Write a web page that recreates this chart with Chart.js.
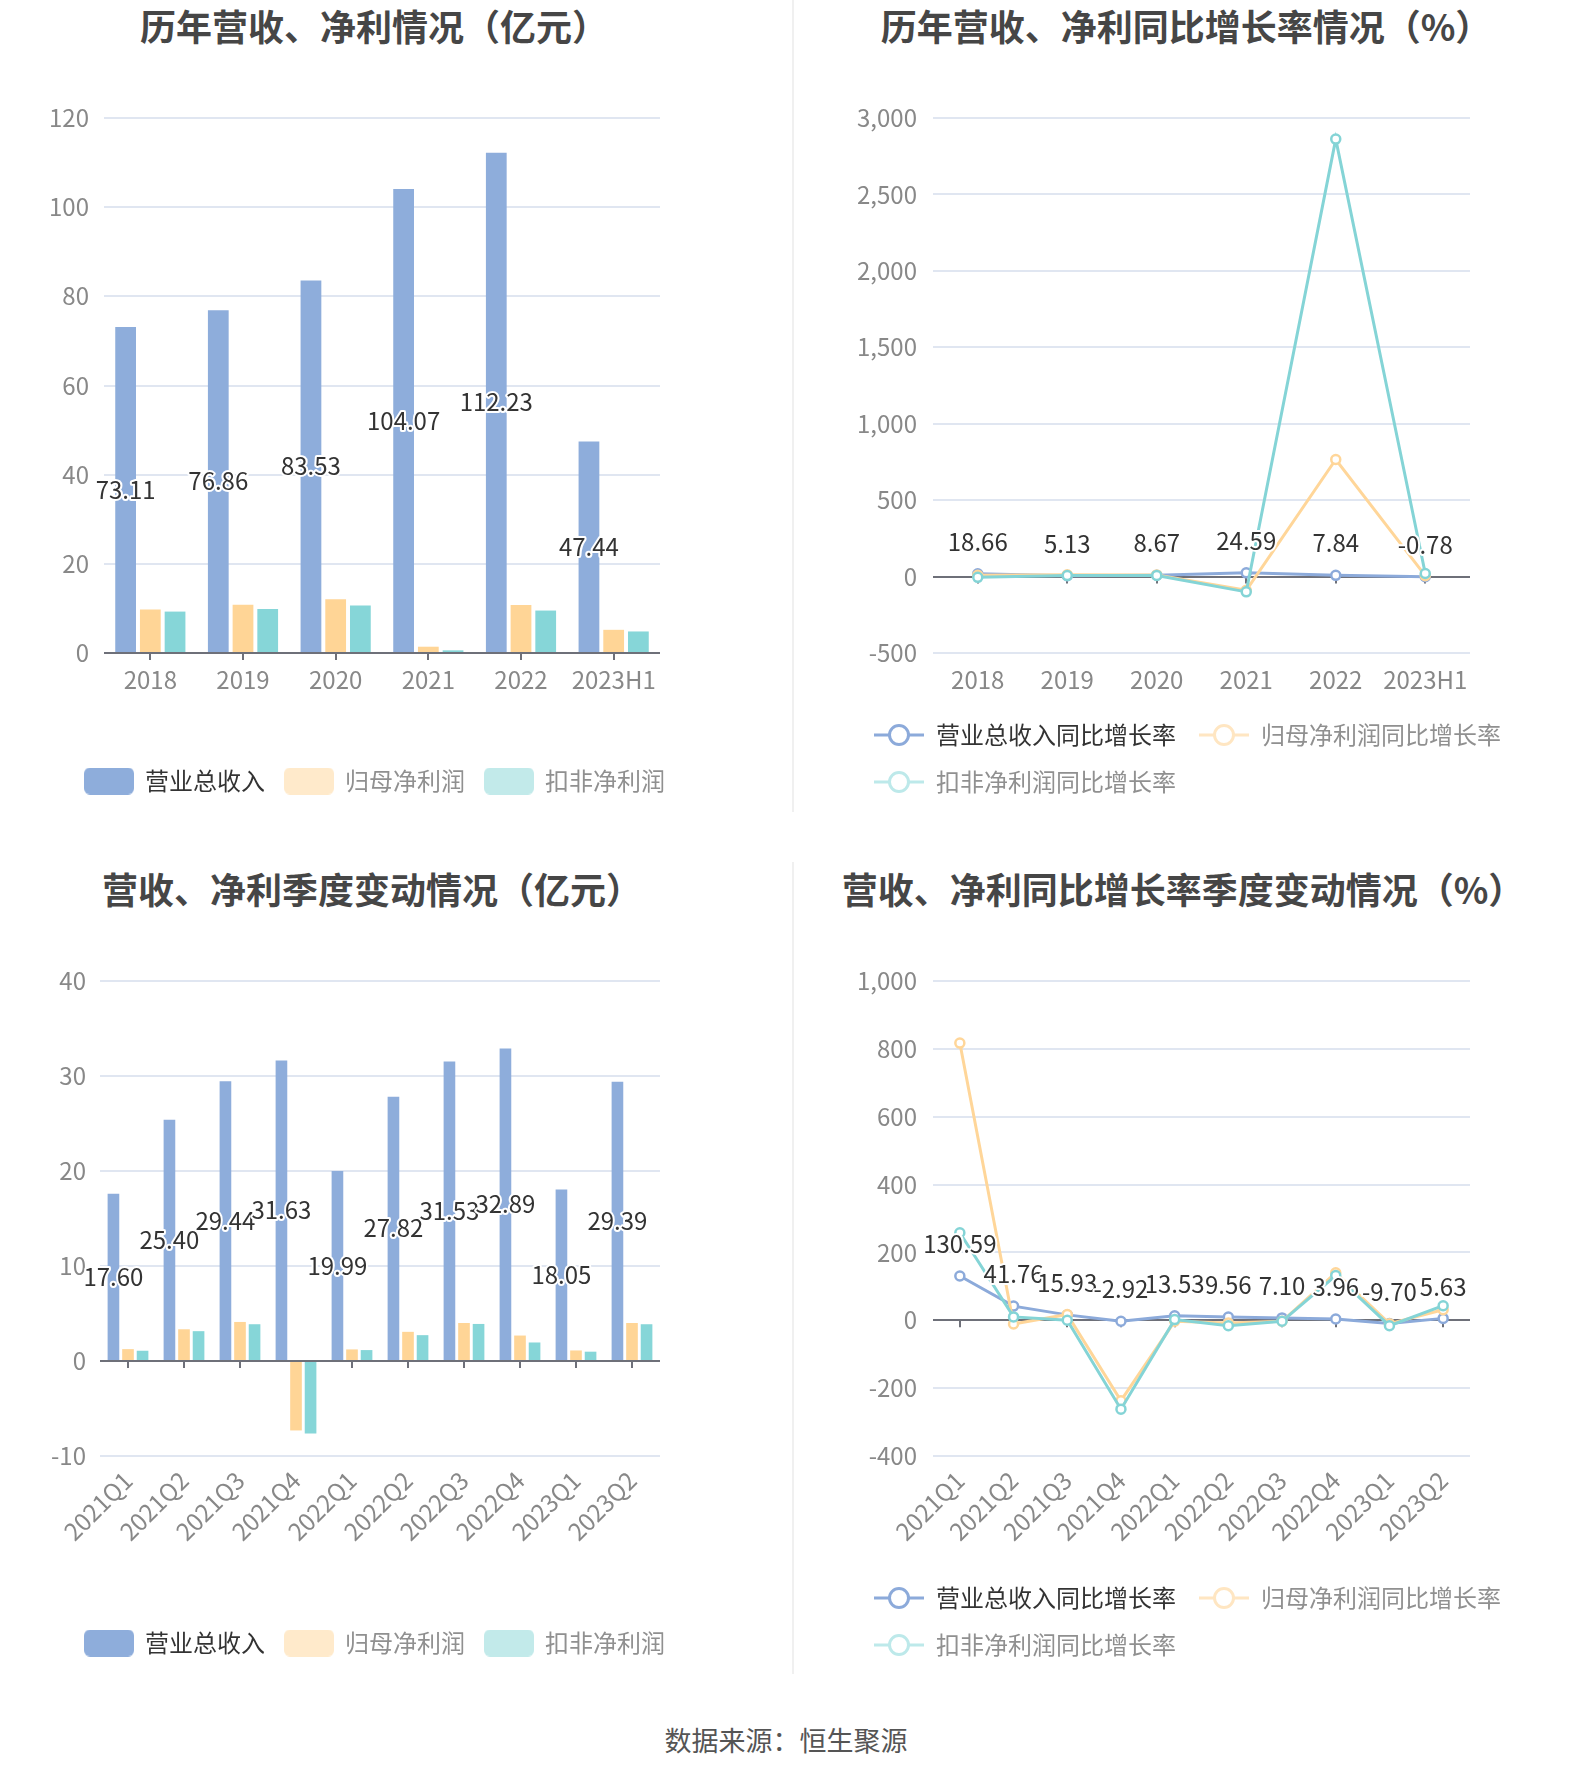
<!DOCTYPE html>
<html lang="zh-CN">
<head>
<meta charset="utf-8">
<title>营收、净利情况</title>
<script src="https://cdn.jsdelivr.net/npm/chart.js@4.4.1/dist/chart.umd.min.js"></script>
<style>
  html, body { margin: 0; padding: 0; background: #fff; }
  body { width: 1574px; height: 1782px; position: relative; overflow: hidden;
         font-family: "Noto Sans CJK SC", "Noto Sans", sans-serif; }
  .title { position: absolute; transform: translateX(-50%); white-space: nowrap;
           font-size: 36px; font-weight: bold; color: #464646; line-height: 40px; }
  .box { position: absolute; }
  .divider { position: absolute; left: 792px; width: 2px; background: #f0f0f0; }
  .source { position: absolute; left: 786px; top: 1722px; transform: translateX(-50%);
            font-size: 27px; color: #555; white-space: nowrap; line-height: 36px; }
</style>
</head>
<body>
<div class="divider" style="top:0;height:812px"></div>
<div class="divider" style="top:862px;height:812px"></div>

<div class="title" style="left:374px;top:5px">历年营收、净利情况（亿元）</div>
<div class="title" style="left:1186px;top:5px">历年营收、净利同比增长率情况（%）</div>
<div class="title" style="left:372px;top:868px">营收、净利季度变动情况（亿元）</div>
<div class="title" style="left:1183px;top:868px">营收、净利同比增长率季度变动情况（%）</div>

<div class="box" style="left:0;top:60px;width:750px;height:743px"><canvas id="annualChart"></canvas></div>
<div class="box" style="left:800px;top:60px;width:774px;height:744px"><canvas id="annualGrowthChart"></canvas></div>
<div class="box" style="left:0;top:930px;width:750px;height:735px"><canvas id="quarterChart"></canvas></div>
<div class="box" style="left:800px;top:930px;width:774px;height:737px"><canvas id="quarterGrowthChart"></canvas></div>

<div class="source">数据来源：恒生聚源</div>

<script>
// ---------- DATA ----------
const yearLabels = ["2018", "2019", "2020", "2021", "2022", "2023H1"];
const yearRevenue = [73.11, 76.86, 83.53, 104.07, 112.23, 47.44];
const yearNetProfit = [9.74, 10.85, 12.04, 1.41, 10.78, 5.2];
const yearDeductedProfit = [9.29, 9.89, 10.63, 0.6, 9.52, 4.83];

const yearRevenueGrowth = [18.66, 5.13, 8.67, 24.59, 7.84, -0.78];
const yearNetProfitGrowth = [8, 11.4, 11, -90, 766, 6];
const yearDeductedGrowth = [-5, 6.5, 7.5, -100, 2862, 20];

const quarterLabels = ["2021Q1", "2021Q2", "2021Q3", "2021Q4", "2022Q1", "2022Q2", "2022Q3", "2022Q4", "2023Q1", "2023Q2"];
const quarterRevenue = [17.6, 25.4, 29.44, 31.63, 19.99, 27.82, 31.53, 32.89, 18.05, 29.39];
const quarterNetProfit = [1.25, 3.34, 4.11, -7.31, 1.22, 3.07, 4.0, 2.68, 1.11, 4.0];
const quarterDeductedProfit = [1.08, 3.14, 3.87, -7.63, 1.15, 2.72, 3.9, 1.95, 0.98, 3.87];

const quarterRevenueGrowth = [130.59, 41.76, 15.93, -2.92, 13.53, 9.56, 7.1, 3.96, -9.7, 5.63];
const quarterNetProfitGrowth = [817, -11, 17, -237, -3, -8, -3, 140, -10, 31];
const quarterDeductedGrowth = [258, 10, 0, -262, 2, -16, -3, 132, -16, 43];

const annualAmountTicks = [0, 20, 40, 60, 80, 100, 120];
const annualGrowthTicks = [-500, 0, 500, 1000, 1500, 2000, 2500, 3000];
const quarterAmountTicks = [-10, 0, 10, 20, 30, 40];
const quarterGrowthTicks = [-400, -200, 0, 200, 400, 600, 800, 1000];

const amountNames = ["营业总收入", "归母净利润", "扣非净利润"];
const growthNames = ["营业总收入同比增长率", "归母净利润同比增长率", "扣非净利润同比增长率"];

// ---------- STYLE ----------
Chart.defaults.font.family = '"Noto Sans CJK SC", "Noto Sans", sans-serif';
Chart.defaults.animation = false;

const BAR_COLORS = ["#8EADDB", "#FFD596", "#86D6D8"];
const LINE_COLORS = ["#8CAADA", "#FFD699", "#84D4D6"];
const BAR_LEGEND = ["#8EADDB", "#FFEACB", "#C2EAEA"];
const LINE_LEGEND = ["#8CAADA", "#FFE6C2", "#BDE9EA"];
const LEGEND_TEXT = ["#333333", "#909090", "#909090"];

function barIcon(color) {
  const c = document.createElement("canvas");
  c.width = 50; c.height = 27;
  const ctx = c.getContext("2d");
  ctx.fillStyle = color;
  ctx.beginPath();
  ctx.roundRect(0, 0, 50, 27, 6);
  ctx.fill();
  return c;
}

function lineIcon(color) {
  const c = document.createElement("canvas");
  c.width = 50; c.height = 26;
  const ctx = c.getContext("2d");
  ctx.strokeStyle = color;
  ctx.lineWidth = 3;
  ctx.beginPath(); ctx.moveTo(0, 13); ctx.lineTo(50, 13); ctx.stroke();
  ctx.beginPath(); ctx.arc(25, 13, 9.5, 0, Math.PI * 2);
  ctx.fillStyle = "#fff"; ctx.fill(); ctx.stroke();
  return c;
}

// ---------- PLUGINS ----------
// value labels for the first series (revenue)
const valueLabels = {
  id: "valueLabels",
  afterDatasetsDraw(chart, args, opts) {
    const meta = chart.getDatasetMeta(0);
    const data = chart.data.datasets[0].data;
    const ctx = chart.ctx;
    ctx.save();
    ctx.font = '24px "Noto Sans CJK SC", sans-serif';
    ctx.textAlign = "center";
    ctx.textBaseline = "middle";
    ctx.lineWidth = 4;
    ctx.lineJoin = "round";
    ctx.strokeStyle = "#fff";
    ctx.fillStyle = "#333";
    meta.data.forEach((el, i) => {
      const y = meta.type === "bar" ? (el.y + el.base) / 2 : el.y - opts.offset;
      const text = data[i].toFixed(2);
      ctx.strokeText(text, el.x, y);
      ctx.fillText(text, el.x, y);
    });
    ctx.restore();
  }
};

// small tick marks hanging under the zero line
const zeroTicks = {
  id: "zeroTicks",
  beforeDatasetsDraw(chart) {
    const xs = chart.scales.x, ys = chart.scales.y;
    const y0 = ys.getPixelForValue(0);
    const ctx = chart.ctx;
    ctx.save();
    ctx.strokeStyle = "#6E7079";
    ctx.lineWidth = 2;
    chart.data.labels.forEach((l, i) => {
      const px = Math.round(xs.getPixelForValue(i));
      ctx.beginPath(); ctx.moveTo(px, y0); ctx.lineTo(px, y0 + 7); ctx.stroke();
    });
    ctx.restore();
  }
};

// ---------- OPTIONS ----------
function buildOptions(cfg) {
  return {
    responsive: true,
    maintainAspectRatio: false,
    animation: false,
    layout: { padding: { top: cfg.padTop, left: cfg.padLeft, right: 0, bottom: 0 } },
    plugins: {
      tooltip: { enabled: false },
      valueLabels: { offset: 32 },
      legend: {
        position: "bottom",
        align: cfg.legendAlign,
        labels: {
          usePointStyle: true,
          pointStyleWidth: cfg.iconWidth,
          padding: cfg.legendGap,
          font: { size: 24 },
          generateLabels: chart => chart.data.datasets.map((ds, i) => ({
            text: ds.label,
            pointStyle: cfg.icons[i],
            fontColor: LEGEND_TEXT[i],
            datasetIndex: i,
            hidden: !chart.isDatasetVisible(i),
            lineWidth: 0,
            fillStyle: "transparent",
            strokeStyle: "transparent"
          }))
        }
      }
    },
    scales: {
      x: {
        offset: true,
        grid: { display: false },
        border: { display: false },
        ticks: {
          color: "#888",
          font: { size: 24 },
          padding: cfg.xPad,
          autoSkip: false,
          minRotation: cfg.rotation,
          maxRotation: cfg.rotation
        },
        afterFit: s => { s.height = cfg.xHeight; }
      },
      y: {
        min: cfg.yTicks[0],
        max: cfg.yTicks[cfg.yTicks.length - 1],
        grid: {
          color: c => (c.tick && c.tick.value === 0 ? "#6E7079" : "#E0E6F1"),
          lineWidth: 2,
          drawTicks: false
        },
        border: { display: false },
        ticks: {
          color: "#888",
          font: { size: 24 },
          padding: cfg.yPad,
          callback: v => v.toLocaleString("en-US")
        },
        afterBuildTicks: s => { s.ticks = cfg.yTicks.map(v => ({ value: v })); },
        afterFit: s => { s.width = cfg.yWidth; }
      },
      pad: {
        position: "right",
        grid: { display: false },
        border: { display: false },
        ticks: { display: false },
        afterFit: s => { s.width = cfg.rightWidth; }
      }
    }
  };
}

function barSets(names, series, catPct, barPct) {
  return series.map((data, i) => ({
    label: names[i],
    data: data,
    backgroundColor: BAR_COLORS[i],
    categoryPercentage: catPct,
    barPercentage: barPct
  }));
}

function lineSets(names, series) {
  return series.map((data, i) => ({
    label: names[i],
    data: data,
    borderColor: LINE_COLORS[i],
    backgroundColor: "#fff",
    borderWidth: 3,
    tension: 0,
    pointRadius: 4.5,
    pointBorderWidth: 2.5,
    pointBackgroundColor: "#fff",
    pointBorderColor: LINE_COLORS[i],
    order: 2 - i
  }));
}

const barIcons = BAR_LEGEND.map(barIcon);
const lineIcons = LINE_LEGEND.map(lineIcon);

// ---------- CHARTS ----------
new Chart(document.getElementById("annualChart"), {
  type: "bar",
  data: {
    labels: yearLabels,
    datasets: barSets(amountNames, [yearRevenue, yearNetProfit, yearDeductedProfit], 0.8, 0.84)
  },
  options: buildOptions({
    padTop: 58, padLeft: 0, yWidth: 104, rightWidth: 90, yPad: 15,
    legendAlign: "center", legendGap: 20, iconWidth: 48,
    xPad: 4, xHeight: 96, rotation: 0, yTicks: annualAmountTicks, icons: barIcons
  }),
  plugins: [valueLabels, zeroTicks]
});

new Chart(document.getElementById("annualGrowthChart"), {
  type: "line",
  data: {
    labels: yearLabels,
    datasets: lineSets(growthNames, [yearRevenueGrowth, yearNetProfitGrowth, yearDeductedGrowth])
  },
  options: buildOptions({
    padTop: 58, padLeft: 51, yWidth: 82, rightWidth: 104, yPad: 16,
    legendAlign: "start", legendGap: 23, iconWidth: 50,
    xPad: 4, xHeight: 47, rotation: 0, yTicks: annualGrowthTicks, icons: lineIcons
  }),
  plugins: [valueLabels, zeroTicks]
});

new Chart(document.getElementById("quarterChart"), {
  type: "bar",
  data: {
    labels: quarterLabels,
    datasets: barSets(amountNames, [quarterRevenue, quarterNetProfit, quarterDeductedProfit], 0.78, 0.8)
  },
  options: buildOptions({
    padTop: 51, padLeft: 0, yWidth: 100, rightWidth: 90, yPad: 14,
    legendAlign: "center", legendGap: 20, iconWidth: 48,
    xPad: 2, xHeight: 155, rotation: 45, yTicks: quarterAmountTicks, icons: barIcons
  }),
  plugins: [valueLabels, zeroTicks]
});

new Chart(document.getElementById("quarterGrowthChart"), {
  type: "line",
  data: {
    labels: quarterLabels,
    datasets: lineSets(growthNames, [quarterRevenueGrowth, quarterNetProfitGrowth, quarterDeductedGrowth])
  },
  options: buildOptions({
    padTop: 51, padLeft: 51, yWidth: 82, rightWidth: 104, yPad: 16,
    legendAlign: "start", legendGap: 23, iconWidth: 50,
    xPad: 2, xHeight: 107, rotation: 45, yTicks: quarterGrowthTicks, icons: lineIcons
  }),
  plugins: [valueLabels, zeroTicks]
});
</script>
</body>
</html>
